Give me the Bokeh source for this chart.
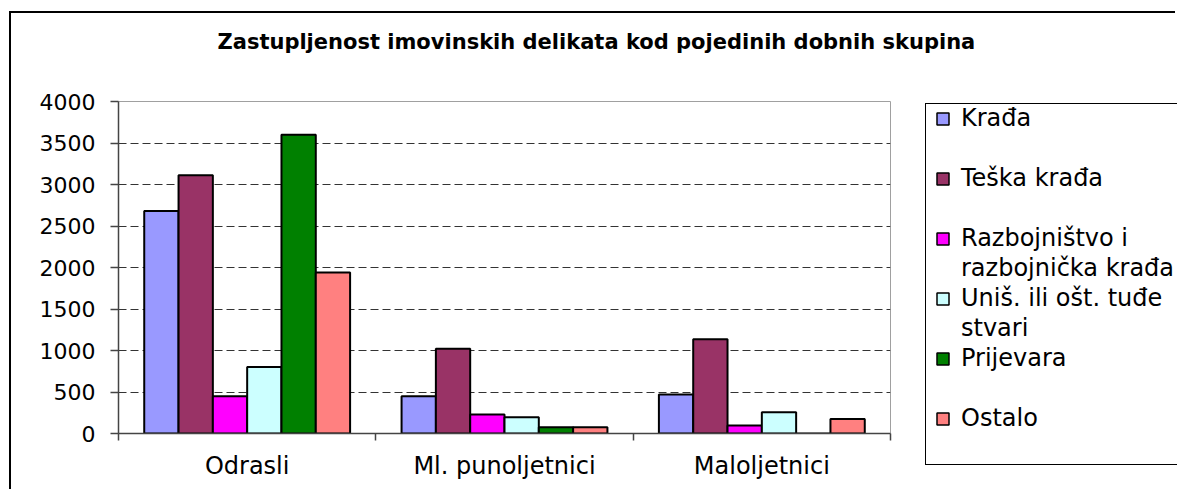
from bokeh.plotting import figure
from bokeh.models import Range1d, FixedTicker, Legend, LegendItem, ColumnDataSource, Title
from bokeh.transform import dodge
from bokeh.embed import file_html
from bokeh.resources import INLINE

# ---------------- data ----------------
categories = ["Odrasli", "Ml. punoljetnici", "Maloljetnici"]
krada = [2680, 450, 470]
teska_krada = [3110, 1020, 1135]
razbojnistvo = [450, 230, 95]
unistenje = [800, 195, 255]
prijevara = [3600, 75, 0]
ostalo = [1940, 75, 175]
series_keys = ["krada", "teska_krada", "razbojnistvo", "unistenje", "prijevara", "ostalo"]
colors = ["#9999FF", "#993366", "#FF00FF", "#CCFFFF", "#008000", "#FF8080"]
# legend rows: (text line, index of series whose swatch is shown, or None)
legend_rows = [("Krađa", 0), (" ", None), ("Teška krađa", 1), (" ", None),
               ("Razbojništvo i", 2), ("razbojnička krađa", None),
               ("Uniš. ili ošt. tuđe", 3), ("stvari", None),
               ("Prijevara", 4), (" ", None), ("Ostalo", 5), (" ", None)]
y_tick_values = [0, 500, 1000, 1500, 2000, 2500, 3000, 3500, 4000]
title_text = "Zastupljenost imovinskih delikata kod pojedinih dobnih skupina"

FONT = "DejaVu Sans"

source = ColumnDataSource(dict(
    x=list(range(len(categories))),
    krada=krada, teska_krada=teska_krada, razbojnistvo=razbojnistvo,
    unistenje=unistenje, prijevara=prijevara, ostalo=ostalo,
))

# ---------------- main chart ----------------
W, H = 1166, 478
p = figure(width=W, height=H, output_backend="svg", toolbar_location=None,
           x_range=Range1d(-0.5, len(categories) - 0.5), y_range=Range1d(0, 4000),
           min_border_left=107, min_border_right=W - 879, min_border_top=88,
           min_border_bottom=H - 420, title=None)
p.styles = {"border-left": "2px solid black", "border-top": "2px solid black",
            "margin-left": "9px", "margin-top": "11px"}
p.background_fill_color = "white"
p.border_fill_color = "white"
p.outline_line_color = "#a0a0a0"
p.outline_line_width = 1

# title (a blank spacer panel sits between the plot area and the title)
spacer = Title(text=" ", text_font_size="10px", standoff=34)
main_title = Title(text=title_text, text_font=FONT, text_font_size="21px",
                   text_font_style="bold", text_color="black", align="left", offset=99,
                   vertical_align="middle", standoff=0)
p.add_layout(spacer, "above")
p.add_layout(main_title, "above")

# bars
n = len(series_keys)
w = 1.0 / (n + 1.5)
for j, key in enumerate(series_keys):
    p.vbar(x=dodge("x", (j - (n - 1) / 2) * w, range=p.x_range), top=key, width=w,
           source=source, fill_color=colors[j], line_color="black", line_width=2)

# axes
xa = p.xaxis[0]
xa.ticker = FixedTicker(ticks=list(range(len(categories))),
                        minor_ticks=[i - 0.5 for i in range(len(categories) + 1)])
xa.major_label_overrides = {i: c for i, c in enumerate(categories)}
xa.major_tick_line_color = None
xa.major_tick_out = 0
xa.major_tick_in = 0
xa.minor_tick_line_color = "#444444"
xa.minor_tick_line_width = 1.5
xa.minor_tick_out = 7
xa.minor_tick_in = 0
xa.axis_line_color = "#444444"
xa.axis_line_width = 1.5
xa.major_label_text_font = FONT
xa.major_label_text_font_size = "24px"
xa.major_label_text_color = "black"
xa.major_label_standoff = 11

ya = p.yaxis[0]
ya.ticker = FixedTicker(ticks=y_tick_values, minor_ticks=[])
ya.axis_line_color = "#444444"
ya.axis_line_width = 1.5
ya.major_tick_line_color = "#444444"
ya.major_tick_line_width = 1.5
ya.major_tick_out = 8
ya.major_tick_in = 0
ya.minor_tick_line_color = None
ya.major_label_text_font = FONT
ya.major_label_text_font_size = "22px"
ya.major_label_text_color = "black"
ya.major_label_standoff = 15

p.xgrid.grid_line_color = None
p.ygrid.ticker = FixedTicker(ticks=y_tick_values[1:-1])
p.ygrid.grid_line_color = "#333333"
p.ygrid.grid_line_width = 1
p.ygrid.grid_line_dash = "8 4"

# ---------------- legend box (separate canvas laid over the chart's right margin) ----------------
lf = figure(width=252, height=362, output_backend="svg", toolbar_location=None,
            x_axis_type=None, y_axis_type=None, title=None,
            x_range=Range1d(0, 1), y_range=Range1d(0, 1), min_border=0)
lf.outline_line_color = None
lf.background_fill_color = "white"
lf.border_fill_color = "white"
lf.styles = {"position": "absolute", "left": "925px", "top": "103px",
             "border-left": "1px solid black", "border-top": "1px solid black",
             "border-bottom": "1px solid black"}
# swatch renderers (their single point lies outside the visible range; they only feed the legend)
swatches = [lf.vbar(x=[5], top=[5], width=0.1, fill_color=c, line_color="black", line_width=1.5)
            for c in colors]
blank = lf.vbar(x=[5], top=[5], width=0.1, fill_alpha=0, line_alpha=0)
items = [LegendItem(label=txt, renderers=[swatches[k] if k is not None else blank])
         for txt, k in legend_rows]
legend = Legend(items=items, location=(9, 3), orientation="vertical",
                padding=0, margin=0, spacing=0, label_height=30,
                glyph_width=15, glyph_height=15, label_standoff=11,
                label_text_font=FONT, label_text_font_size="24px", label_text_color="black",
                border_line_color=None, background_fill_alpha=0)
lf.add_layout(legend, "center")

open("out.html", "w").write(file_html([p, lf], INLINE))
